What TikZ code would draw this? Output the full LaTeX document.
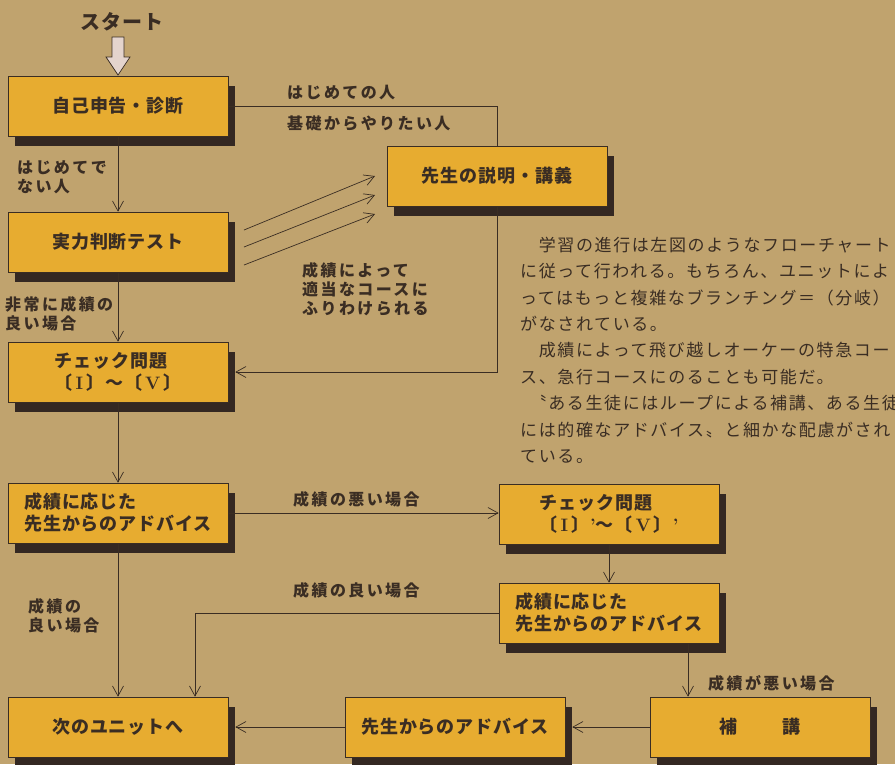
\documentclass[tikz,border=0pt]{standalone}
\usepackage{fontspec}
\newfontfamily\jp{Noto Sans CJK JP}
\newfontfamily\jpbox{Noto Sans CJK JP}[LetterSpace=5]
\newfontfamily\jplbl{Noto Sans CJK JP}[LetterSpace=15]
\newfontfamily\jptxt{Noto Sans CJK JP}[LetterSpace=9.5]
\usetikzlibrary{shadows, arrows.meta}

\definecolor{paper}{RGB}{192,163,110}
\definecolor{boxfill}{RGB}{231,172,48}
\definecolor{shade}{RGB}{52,40,34}
\definecolor{ink}{RGB}{58,45,35}
\definecolor{pale}{RGB}{228,212,205}

\begin{document}
\begin{tikzpicture}[
		x = 1pt,
		y = -1pt,
		box/.style = {
			draw = ink,
			rectangle,
			fill = boxfill,
			line width = 0.6pt,
			inner sep = 0,
			minimum width = 220pt,
			minimum height = 60pt,
			align = left,
			text = ink,
			font = \jpbox\bfseries\fontsize{18}{22}\selectfont,
			drop shadow = {shadow xshift=7pt,shadow yshift=-10pt,fill=shade,opacity=1}
		},
		lbl/.style = {
			text = ink,
			align = left,
			inner sep = 0,
			font = \jplbl\bfseries\fontsize{16}{19}\selectfont
		},
		ln/.style = {
			draw = ink,
			line width = 0.7pt
		},
		flow/.style = {
			ln,
			-{Straight Barb[length = 10pt, width = 11pt, line width = 0.7pt]}
		}
	]
	\fill[paper, use as bounding box] (0, 0) rectangle (895, 764);

	\node [text = ink, inner sep = 0, font = \jpbox\bfseries\fontsize{20}{24}\selectfont] (start) at (122, 22) {スタート};
	\draw [ink, fill = pale, line width = 0.7pt] (112, 37) -- (124, 37) -- (124, 57) -- (130, 57) -- (118, 75) -- (106, 57) -- (112, 57) -- cycle;

	\node [box] (selfcheck) at (118, 106) {自己申告・診断};
	\node [box] (test) at (118, 242) {実力判断テスト};
	\node [box] (lecture) at (497, 176) {先生の説明・講義};
	\node [box] (check) at (118, 372) {チェック問題\\〔\,\textrm{I}\,〕～〔\,\textrm{V}\,〕};
	\node [box] (advice) at (118, 513) {成績に応じた\\先生からのアドバイス};
	\node [box] (recheck) at (609, 514) {チェック問題\\〔\,\textrm{I}\,〕\textrm{'}～〔\,\textrm{V}\,〕\textrm{'}};
	\node [box] (readvice) at (609, 613) {成績に応じた\\先生からのアドバイス};
	\node [box] (nextunit) at (118, 727) {次のユニットへ};
	\node [box] (teacher) at (455, 727) {先生からのアドバイス};
	\node [box] (remedial) at (760, 727) {補\hspace{46pt}講};

	\draw [flow] (selfcheck) -- (test);
	\draw [ln] (selfcheck.east) -| (lecture.north);
	\foreach \ya/\yb in {230/176, 247/195, 265/214}
		\draw [flow] (244, \ya) -- (375, \yb);
	\draw [flow] (lecture.south) |- ([xshift = 7pt]check.east);
	\draw [flow] (test) -- (check);
	\draw [flow] (check) -- (advice);
	\draw [flow] (advice.east) -- (advice.east -| recheck.west);
	\draw [flow] (recheck) -- (readvice);
	\draw [flow] (readvice.west) -| ([xshift = 77pt]nextunit.north);
	\draw [flow] (advice) -- (nextunit);
	\draw [flow] ([xshift = 79pt]readvice.south) -- ([xshift = 79pt]readvice.south |- remedial.north);
	\draw [flow] (remedial.west) -- ([xshift = 7pt]teacher.east);
	\draw [flow] (teacher.west) -- ([xshift = 7pt]nextunit.east);

	\node [lbl, anchor = west] (first) at (287, 93) {はじめての人};
	\node [lbl, anchor = west] (basic) at (287, 123) {基礎からやりたい人};
	\node [lbl, anchor = west] (notfirst) at (17, 177) {はじめてで\\ない人};
	\node [lbl, anchor = west] (sorted) at (302, 289) {成績によって\\適当なコースに\\ふりわけられる};
	\node [lbl, anchor = west] (verygood) at (5, 314) {非常に成績の\\良い場合};
	\node [lbl, anchor = west] (bad) at (293, 499) {成績の悪い場合};
	\node [lbl, anchor = west] (good) at (293, 590) {成績の良い場合};
	\node [lbl, anchor = west] (goodleft) at (28, 616) {成績の\\良い場合};
	\node [lbl, anchor = west] (worse) at (708, 683) {成績が悪い場合};

	\begin{scope}
		\clip (0, 0) rectangle (895, 764);
		\node [text = ink, align = left, inner sep = 0, anchor = base west, font = \jptxt\fontsize{17}{26.4}\selectfont] (note) at (520, 462.5) {　学習の進行は左図のようなフローチャート\\に従って行われる。もちろん、ユニットによ\\ってはもっと複雑なブランチング＝（分岐）\\がなされている。\\　成績によって飛び越しオーケーの特急コー\\ス、急行コースにのることも可能だ。\\\hspace{9.5pt}〝ある生徒にはループによる補講、ある生徒\\には的確なアドバイス〟と細かな配慮がされ\\ている。};
	\end{scope}
\end{tikzpicture}
\end{document}
